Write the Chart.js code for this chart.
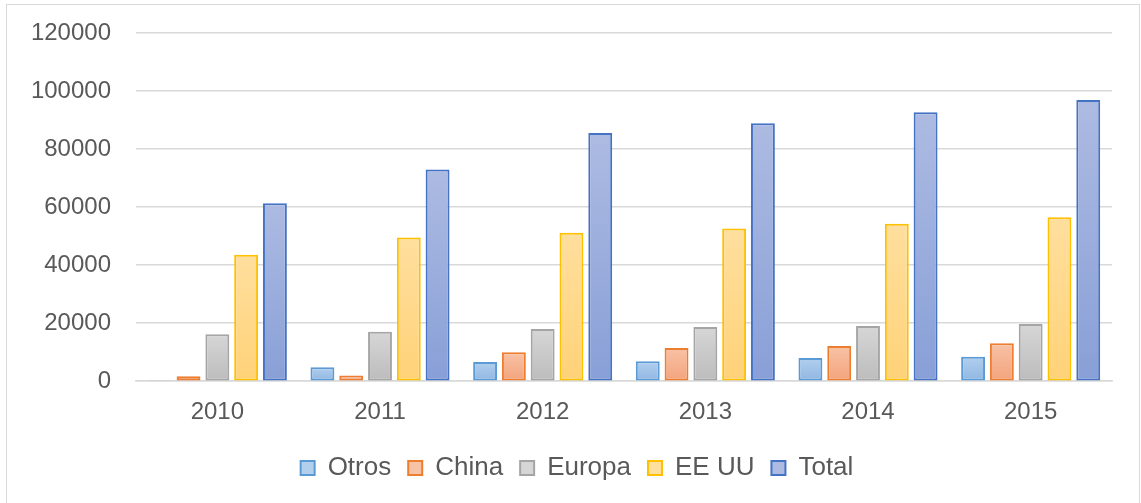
<!DOCTYPE html>
<html>
<head>
<meta charset="utf-8">
<script src="https://cdn.jsdelivr.net/npm/chart.js@4.4.1/dist/chart.umd.min.js"></script>
<style>
    body { margin: 0; background: #fff; }
    #wrap { position: relative; width: 1141px; height: 503px; }
    #frame {
        position: absolute; left: 6px; top: 4px; width: 1132px; height: 510px;
        border: 1px solid #d9d9d9; pointer-events: none;
    }
</style>
</head>
<body>
<div id="wrap">
    <canvas id="grafico" width="1141" height="503"></canvas>
    <div id="frame"></div>
</div>
<script>
const anios = ["2010", "2011", "2012", "2013", "2014", "2015"];
const otros = [300, 4800, 6600, 6900, 8000, 8400];
const china = [1700, 2000, 10000, 11400, 12100, 13100];
const europa = [16200, 17000, 18000, 18700, 19000, 19700];
const eeuu = [43600, 49500, 51200, 52600, 54300, 56500];
const total = [61300, 73000, 85500, 88900, 92700, 96900];
const ticksY = [0, 20000, 40000, 60000, 80000, 100000, 120000];

// borde, degradado arriba, degradado abajo
const colores = {
    "Otros":  ["#5b9bd5", "#b2cfee", "#8fb6e2"],
    "China":  ["#ed7d31", "#f8c2a5", "#f3a37c"],
    "Europa": ["#a5a5a5", "#d6d6d6", "#bcbcbc"],
    "EE UU":  ["#ffc000", "#ffdf9e", "#ffd278"],
    "Total":  ["#4472c4", "#adbbe2", "#889fd7"]
};

function degradado(nombre) {
    return ctx => {
        const chart = ctx.chart;
        const y = chart.scales.y;
        if (!y || ctx.raw === undefined) return colores[nombre][2];
        const top = y.getPixelForValue(ctx.raw);
        const base = y.getPixelForValue(0);
        if (!isFinite(top) || base - top < 1) return colores[nombre][2];
        const g = chart.ctx.createLinearGradient(0, top, 0, base);
        g.addColorStop(0, colores[nombre][1]);
        g.addColorStop(1, colores[nombre][2]);
        return g;
    };
}

function serie(nombre, valores) {
    return {
        label: nombre,
        data: valores,
        backgroundColor: degradado(nombre),
        borderColor: colores[nombre][0],
        borderWidth: 2,
        borderSkipped: false,
        categoryPercentage: 0.885,
        barPercentage: 0.83
    };
}

// la leyenda del original está algo corrida a la derecha
const moverLeyenda = {
    id: "moverLeyenda",
    afterLayout(chart) {
        chart.legend.left += 21;
        chart.legend.right += 21;
    }
};

new Chart(document.getElementById("grafico"), {
    type: "bar",
    data: {
        labels: anios,
        datasets: [
            serie("Otros", otros),
            serie("China", china),
            serie("Europa", europa),
            serie("EE UU", eeuu),
            serie("Total", total)
        ]
    },
    plugins: [moverLeyenda],
    options: {
        responsive: false,
        animation: false,
        layout: { padding: { top: 33, right: 29, bottom: 12, left: 0 } },
        scales: {
            y: {
                min: 0,
                max: 120000,
                afterFit: s => {
                    s.width = 136;
                    s.paddingTop = 0;
                    s.paddingBottom = 0;
                },
                afterBuildTicks: s => { s.ticks = ticksY.map(v => ({ value: v })); },
                border: { display: false },
                grid: { color: "#d9d9d9", lineWidth: 1.5, drawTicks: false },
                ticks: {
                    padding: 25,
                    color: "#595959",
                    font: { family: "Liberation Sans", size: 24 },
                    callback: v => String(v)
                }
            },
            x: {
                afterFit: s => { s.height += 2; },
                border: { display: true, color: "#d9d9d9", width: 1.5 },
                grid: { display: false },
                ticks: {
                    padding: 9,
                    color: "#595959",
                    font: { family: "Liberation Sans", size: 24 }
                }
            }
        },
        plugins: {
            tooltip: { enabled: false },
            legend: {
                position: "bottom",
                labels: {
                    boxWidth: 14,
                    boxHeight: 14,
                    padding: 17,
                    color: "#595959",
                    font: { family: "Liberation Sans", size: 26 },
                    generateLabels: chart => chart.data.datasets.map((d, i) => ({
                        text: d.label,
                        fillStyle: colores[d.label][1],
                        strokeStyle: colores[d.label][0],
                        lineWidth: 2,
                        fontColor: "#595959",
                        datasetIndex: i
                    }))
                }
            }
        }
    }
});
</script>
</body>
</html>
